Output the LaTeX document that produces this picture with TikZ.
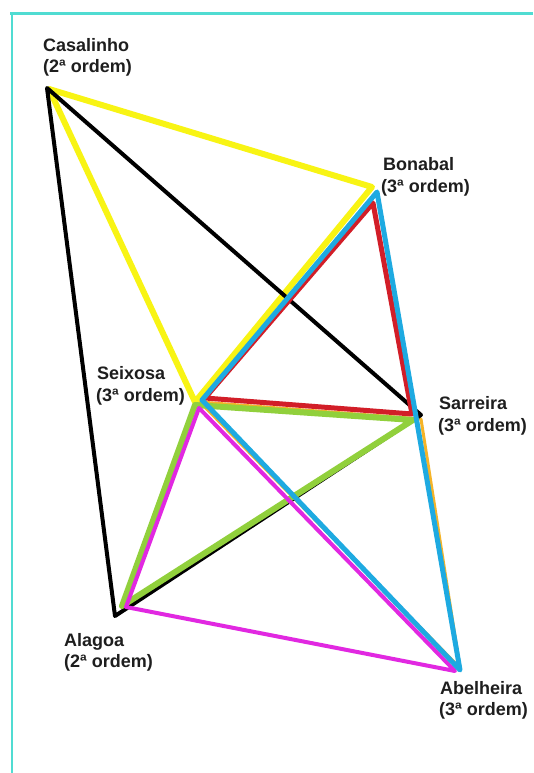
\documentclass[tikz,border=0pt]{standalone}
\usepackage{fontspec}
\setmainfont{Liberation Sans}
\definecolor{yel}{RGB}{248,244,20}
\definecolor{redl}{RGB}{210,30,40}
\definecolor{cyanl}{RGB}{30,170,225}
\definecolor{greenl}{RGB}{145,208,60}
\definecolor{magl}{RGB}{225,40,225}
\definecolor{orangel}{RGB}{245,180,40}
\definecolor{framec}{RGB}{80,220,210}
\definecolor{txt}{RGB}{30,30,30}
\begin{document}
\begin{tikzpicture}[x=1pt,y=-1pt,
  lbl/.style={anchor=base west, inner sep=0pt, font=\bfseries\fontsize{18}{21}\selectfont, text=txt},
  edge/.style={line cap=round, line join=round},
  yedge/.style={edge, draw=yel, line width=6pt},
  kedge/.style={edge, draw=black, line width=4pt},
  gedge/.style={edge, draw=greenl, line width=6pt},
  redge/.style={edge, draw=redl, line width=5pt},
  medge/.style={edge, draw=magl, line width=4pt},
  oedge/.style={edge, draw=orangel, line width=3pt},
  cedge/.style={edge, draw=cyanl, line width=5pt},
  frameline/.style={draw=framec}]
\useasboundingbox (0,0) rectangle (533,773);
\fill[white] (0,0) rectangle (533,773);
% frame
\coordinate (f1) at (10,14);
\coordinate (f2) at (533,14);
\coordinate (f3) at (12,14);
\coordinate (f4) at (12,773);
\draw[frameline, line width=3pt] (f1) -- (f2);
\draw[frameline, line width=2.5pt] (f3) -- (f4);
% vertices
\coordinate (C) at (48,88);
\coordinate (B) at (375,190);
\coordinate (S) at (199,402);
\coordinate (R) at (415,416);
\coordinate (A) at (118,612);
\coordinate (E) at (458,670);
% orange triangle S-R-E
\draw[oedge] ([shift={(1,0)}]S) -- ([shift={(6,3)}]R) -- ([shift={(2,-2)}]E) -- cycle;
% yellow triangle C-B-S
\draw[yedge] ([shift={(1,1)}]C) -- ([shift={(-3,-3)}]B) -- ([shift={(-4,0)}]S) -- cycle;
% black triangle C-R-A
\draw[kedge] ([shift={(-1,0)}]C) -- ([shift={(6,-1)}]R) -- ([shift={(-3,4)}]A) -- cycle;
% green triangle S-R-A
\draw[gedge] ([shift={(-4,3)}]S) -- ([shift={(-2,4)}]R) -- ([shift={(4,-6)}]A) -- cycle;
% red triangle B-S-R
\draw[redge] ([shift={(-2,13)}]B) -- ([shift={(6,-4)}]S) -- ([shift={(-3,-2)}]R) -- cycle;
% magenta triangle S-A-E
\draw[medge] ([shift={(0,6)}]S) -- ([shift={(8,-5)}]A) -- ([shift={(-3,1)}]E) -- cycle;
% cyan triangle B-S-E
\draw[cedge] ([shift={(2,2)}]B) -- ([shift={(3,-2)}]S) -- ([shift={(2,0)}]E) -- cycle;
% labels
\node[lbl] (c1) at (43,52) {Casalinho};
\node[lbl] (c2) at (43,73) {(2ª ordem)};
\node[lbl] (b1) at (383,170) {Bonabal};
\node[lbl] (b2) at (381,192) {(3ª ordem)};
\node[lbl] (s1) at (97,379) {Seixosa};
\node[lbl] (s2) at (96,401) {(3ª ordem)};
\node[lbl] (r1) at (439,409) {Sarreira};
\node[lbl] (r2) at (438,431) {(3ª ordem)};
\node[lbl] (a1) at (64,646) {Alagoa};
\node[lbl] (a2) at (64,667) {(2ª ordem)};
\node[lbl] (e1) at (440,694) {Abelheira};
\node[lbl] (e2) at (439,715) {(3ª ordem)};
\end{tikzpicture}
\end{document}
